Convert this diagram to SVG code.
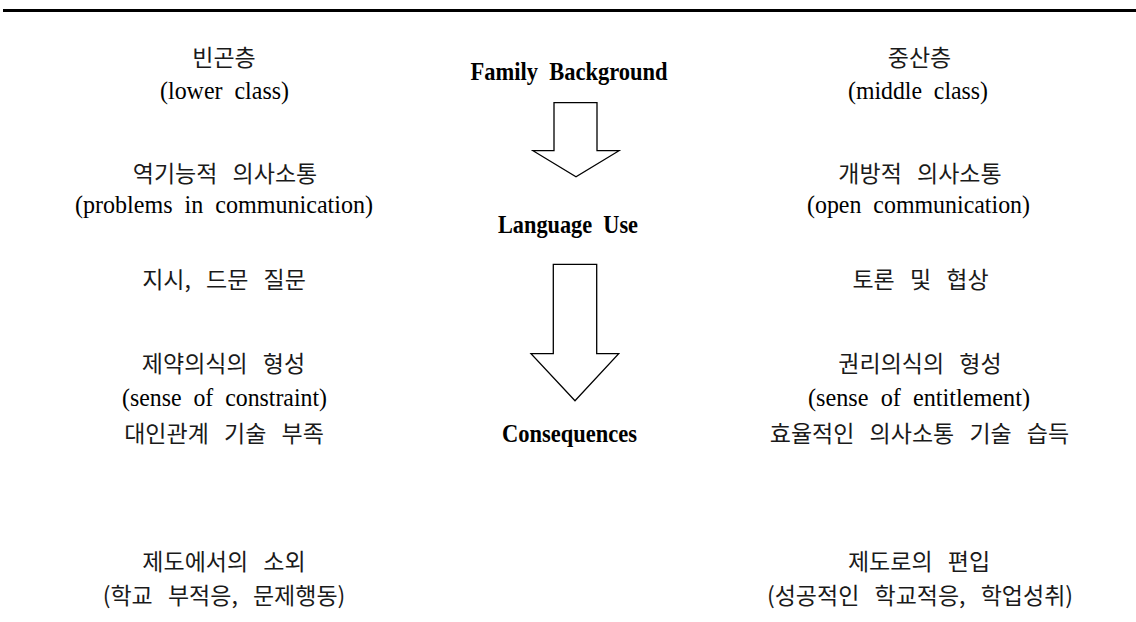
<svg xmlns="http://www.w3.org/2000/svg" width="1136" height="622" viewBox="0 0 1136 622">
<style>
.en{font-family:"Liberation Serif","Times New Roman",serif;font-size:26px;fill:#000;text-anchor:middle}
.enb{font-family:"Liberation Serif","Times New Roman",serif;font-size:26px;font-weight:bold;fill:#000;text-anchor:middle}
.ko{font-family:"Noto Sans CJK KR","Noto Sans",sans-serif;font-size:23px;fill:#1a1a1a;text-anchor:middle;word-spacing:10px}
.arrow{fill:#fff;stroke:#000;stroke-width:1.3;stroke-linejoin:miter}
</style>
<rect x="0" y="0" width="1136" height="622" fill="#fff"/>
<line x1="3" y1="10.5" x2="1136" y2="10.5" stroke="#000" stroke-width="3"/>

<g id="lower-class">
<text class="ko" x="224" y="65.5">빈곤층</text>
<text class="en" xml:space="preserve" x="224.5" y="98.5" textLength="129" lengthAdjust="spacingAndGlyphs">(lower  class)</text>
</g>
<g id="lower-communication">
<text class="ko" x="225" y="181.5">역기능적 의사소통</text>
<text class="en" xml:space="preserve" x="224" y="212.5" textLength="298" lengthAdjust="spacingAndGlyphs">(problems  in  communication)</text>
</g>
<g id="lower-language">
<text class="ko" x="224" y="287.5">지시, 드문 질문</text>
</g>
<g id="lower-consequence">
<text class="ko" x="223.5" y="371.5">제약의식의 형성</text>
<text class="en" xml:space="preserve" x="224.5" y="405.5" textLength="205" lengthAdjust="spacingAndGlyphs">(sense  of  constraint)</text>
<text class="ko" x="224" y="441.5">대인관계 기술 부족</text>
</g>
<g id="lower-outcome">
<text class="ko" x="224" y="569.5">제도에서의 소외</text>
<text class="ko" x="224" y="603.5">(학교 부적응, 문제행동)</text>
</g>

<g id="middle-class">
<text class="ko" x="919.5" y="65.5">중산층</text>
<text class="en" xml:space="preserve" x="918" y="98.5" textLength="140" lengthAdjust="spacingAndGlyphs">(middle  class)</text>
</g>
<g id="middle-communication">
<text class="ko" x="920" y="181.5">개방적 의사소통</text>
<text class="en" xml:space="preserve" x="918.5" y="212.5" textLength="223" lengthAdjust="spacingAndGlyphs">(open  communication)</text>
</g>
<g id="middle-language">
<text class="ko" x="920.5" y="287.5">토론 및 협상</text>
</g>
<g id="middle-consequence">
<text class="ko" x="920" y="371.5">권리의식의 형성</text>
<text class="en" xml:space="preserve" x="919" y="405.5" textLength="222" lengthAdjust="spacingAndGlyphs">(sense  of  entitlement)</text>
<text class="ko" x="919.5" y="441.5">효율적인 의사소통 기술 습득</text>
</g>
<g id="middle-outcome">
<text class="ko" x="919" y="569.5">제도로의 편입</text>
<text class="ko" x="920" y="603.5">(성공적인 학교적응, 학업성취)</text>
</g>

<g id="family-background">
<text class="enb" xml:space="preserve" x="569" y="80" textLength="197" lengthAdjust="spacingAndGlyphs">Family  Background</text>
</g>
<g id="language-use">
<text class="enb" xml:space="preserve" x="568" y="233" textLength="140" lengthAdjust="spacingAndGlyphs">Language  Use</text>
</g>
<g id="consequences">
<text class="enb" x="569.5" y="441.5" textLength="135" lengthAdjust="spacingAndGlyphs">Consequences</text>
</g>

<g id="connectors">
<polygon class="arrow" points="554,102.7 597,102.7 597,150.7 619,150.7 576,176.7 533,150.7 554,150.7"/>
<polygon class="arrow" points="553.3,264.3 596.7,264.3 596.7,353.7 618.7,353.7 575,400.7 531,353.7 553.3,353.7"/>
</g>
</svg>
